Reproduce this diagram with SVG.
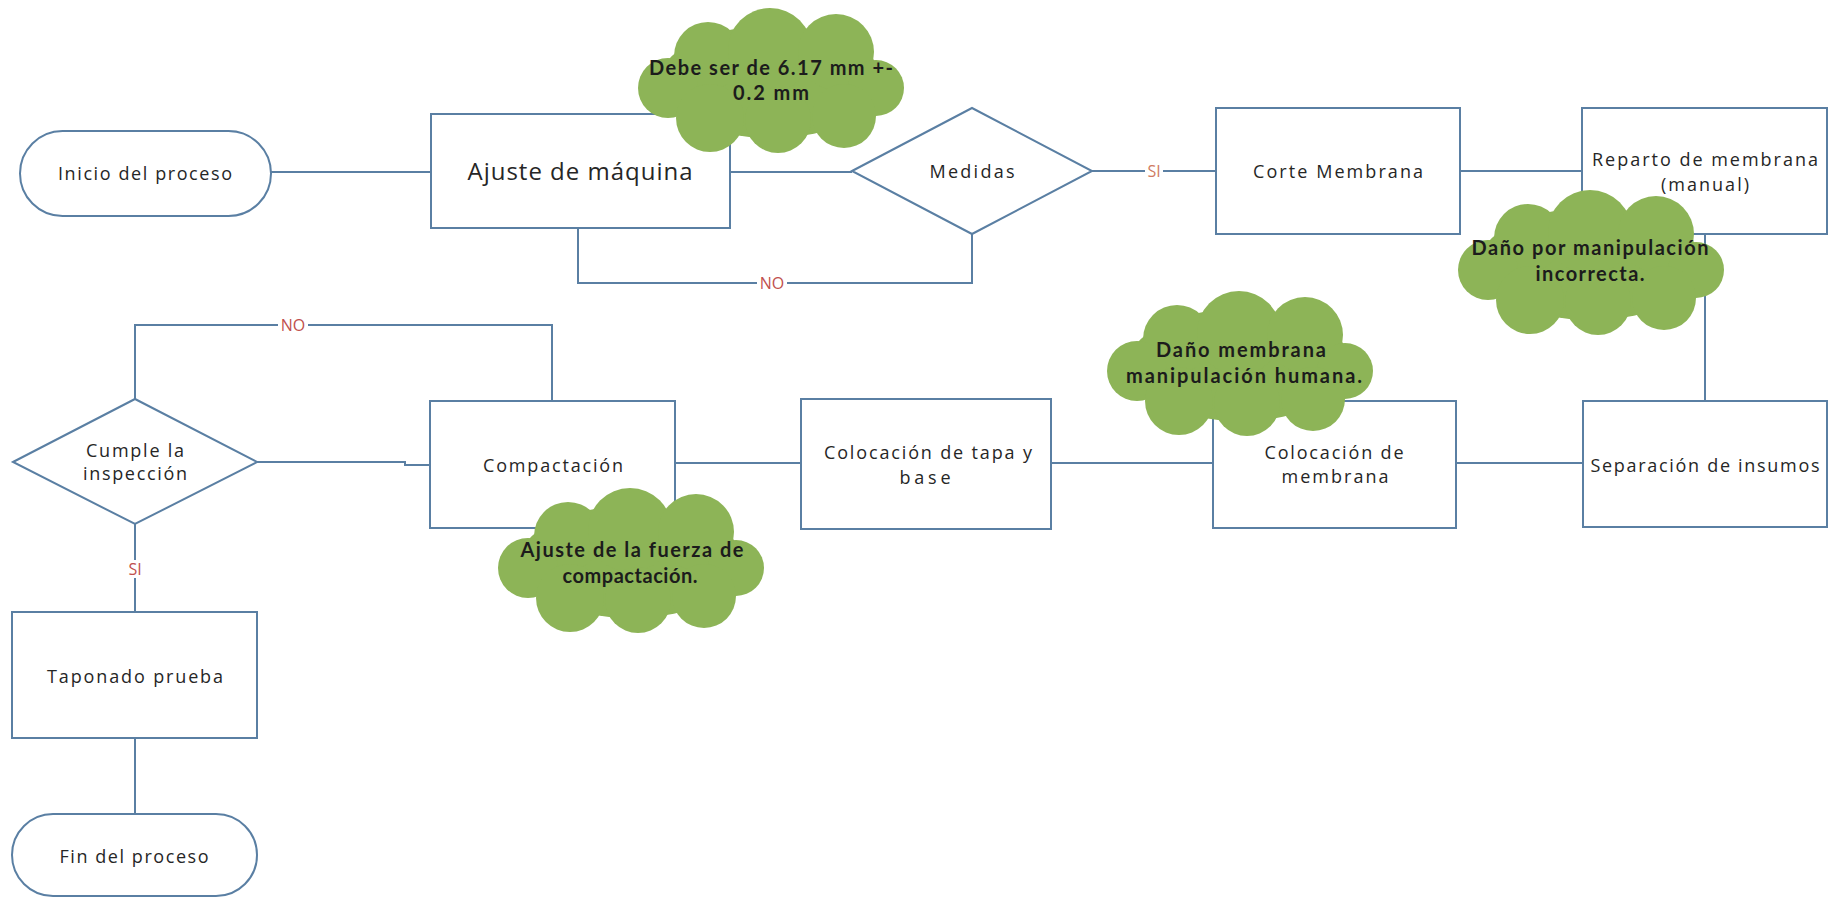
<svg xmlns="http://www.w3.org/2000/svg" xmlns:xlink="http://www.w3.org/1999/xlink" width="1836" height="897" viewBox="0 0 1836 897">
  <style>
    .box { fill: #ffffff; stroke: #5a7fa3; stroke-width: 2; }
    .wire { fill: none; stroke: #5a7fa3; stroke-width: 2; }
    .t { font-family: "Open Sans", "DejaVu Sans", sans-serif; font-size: 18px; fill: #262626; text-anchor: middle; }
    .big { font-size: 24px; }
    .c { font-family: Lato, "Liberation Sans", sans-serif; font-weight: bold; font-size: 20px; fill: #1c1c1c; text-anchor: middle; }
    .lbl { font-family: "Open Sans", "DejaVu Sans", sans-serif; font-size: 16px; fill: #c0504d; text-anchor: middle; }
    .lbl-si { fill: #d07b62; }
    .lblbg { fill: #ffffff; }
    .cloud { fill: #8db457; }
  </style>
  <defs>
    <!-- cloud callout, 266 x 145 -->
    <g id="cloud" class="cloud">
      <ellipse cx="133" cy="74" rx="112" ry="56"/>
      <circle cx="70" cy="48" r="34"/>
      <circle cx="132" cy="42" r="42"/>
      <circle cx="198" cy="44" r="38"/>
      <circle cx="238" cy="80" r="28"/>
      <circle cx="30" cy="80" r="30"/>
      <circle cx="72" cy="110" r="34"/>
      <circle cx="140" cy="112" r="33"/>
      <circle cx="206" cy="108" r="32"/>
    </g>
  </defs>

  <rect width="1836" height="897" fill="#ffffff"/>

  <!-- connectors -->
  <g id="connectors">
    <path class="wire" d="M271 172 H431"/>
    <path class="wire" d="M730 172 H852"/>
    <path class="wire" d="M972 234 V283 H578 V228"/>
    <path class="wire" d="M1092 171 H1216"/>
    <path class="wire" d="M1460 171 H1582"/>
    <path class="wire" d="M1705 234 V401"/>
    <path class="wire" d="M1583 463 H1456"/>
    <path class="wire" d="M1213 463 H1051"/>
    <path class="wire" d="M801 463 H675"/>
    <path class="wire" d="M430 465 H405 V462 H257"/>
    <path class="wire" d="M552 401 V325 H135 V399"/>
    <path class="wire" d="M135 524 V612"/>
    <path class="wire" d="M135 738 V814"/>
    <!-- branch labels -->
    <rect class="lblbg" x="757" y="275" width="30" height="17"/>
    <text class="lbl" x="772" y="289">NO</text>
    <rect class="lblbg" x="1145" y="163" width="18" height="17"/>
    <text class="lbl lbl-si" x="1154" y="177">SI</text>
    <rect class="lblbg" x="278" y="317" width="30" height="17"/>
    <text class="lbl" x="293" y="331">NO</text>
    <rect class="lblbg" x="126" y="560" width="18" height="18"/>
    <text class="lbl" x="135" y="575">SI</text>
  </g>

  <g id="inicio">
    <rect class="box" x="20" y="131" width="251" height="85" rx="42.5"/>
    <text class="t" x="145" y="180" textLength="174" lengthAdjust="spacing">Inicio del proceso</text>
  </g>

  <g id="ajuste-maquina">
    <rect class="box" x="431" y="114" width="299" height="114"/>
    <text class="t big" x="580" y="180" textLength="225" lengthAdjust="spacing">Ajuste de máquina</text>
  </g>

  <g id="medidas">
    <polygon class="box" points="852,171 972,108 1092,171 972,234"/>
    <text class="t" x="972" y="178" textLength="85" lengthAdjust="spacing">Medidas</text>
  </g>

  <g id="corte-membrana">
    <rect class="box" x="1216" y="108" width="244" height="126"/>
    <text class="t" x="1338" y="178" textLength="170" lengthAdjust="spacing">Corte Membrana</text>
  </g>

  <g id="reparto-membrana">
    <rect class="box" x="1582" y="108" width="245" height="126"/>
    <text class="t" x="1705" y="166" textLength="226" lengthAdjust="spacing">Reparto de membrana</text>
    <text class="t" x="1705" y="191" textLength="88" lengthAdjust="spacing">(manual)</text>
  </g>

  <g id="separacion-insumos">
    <rect class="box" x="1583" y="401" width="244" height="126"/>
    <text class="t" x="1705" y="472" textLength="229" lengthAdjust="spacing">Separación de insumos</text>
  </g>

  <g id="colocacion-membrana">
    <rect class="box" x="1213" y="401" width="243" height="127"/>
    <text class="t" x="1334" y="459" textLength="139" lengthAdjust="spacing">Colocación de</text>
    <text class="t" x="1335" y="483" textLength="107" lengthAdjust="spacing">membrana</text>
  </g>

  <g id="colocacion-tapa-base">
    <rect class="box" x="801" y="399" width="250" height="130"/>
    <text class="t" x="928" y="459" textLength="208" lengthAdjust="spacing">Colocación de tapa y</text>
    <text class="t" x="925" y="484" textLength="51" lengthAdjust="spacing">base</text>
  </g>

  <g id="compactacion">
    <rect class="box" x="430" y="401" width="245" height="127"/>
    <text class="t" x="553" y="472" textLength="140" lengthAdjust="spacing">Compactación</text>
  </g>

  <g id="cumple-inspeccion">
    <polygon class="box" points="13,462 135,399 257,462 135,524"/>
    <text class="t" x="135" y="457" textLength="98" lengthAdjust="spacing">Cumple la</text>
    <text class="t" x="135" y="480" textLength="104" lengthAdjust="spacing">inspección</text>
  </g>

  <g id="taponado-prueba">
    <rect class="box" x="12" y="612" width="245" height="126"/>
    <text class="t" x="135" y="683" textLength="176" lengthAdjust="spacing">Taponado prueba</text>
  </g>

  <g id="fin">
    <rect class="box" x="12" y="814" width="245" height="82" rx="41"/>
    <text class="t" x="134" y="863" textLength="149" lengthAdjust="spacing">Fin del proceso</text>
  </g>

  <!-- cloud notes -->
  <g id="nota-medida">
    <use xlink:href="#cloud" href="#cloud" transform="translate(638,8)"/>
    <text class="c" x="771" y="75" textLength="244" lengthAdjust="spacing">Debe ser de 6.17 mm +-</text>
    <text class="c" x="771" y="100" textLength="76" lengthAdjust="spacing">0.2 mm</text>
  </g>

  <g id="nota-manipulacion">
    <use xlink:href="#cloud" href="#cloud" transform="translate(1458,190)"/>
    <text class="c" x="1590" y="255" textLength="237" lengthAdjust="spacing">Daño por manipulación</text>
    <text class="c" x="1590" y="281" textLength="109" lengthAdjust="spacing">incorrecta.</text>
  </g>

  <g id="nota-membrana">
    <use xlink:href="#cloud" href="#cloud" transform="translate(1107,291)"/>
    <text class="c" x="1241" y="357" textLength="170" lengthAdjust="spacing">Daño membrana</text>
    <text class="c" x="1244" y="383" textLength="236" lengthAdjust="spacing">manipulación humana.</text>
  </g>

  <g id="nota-compactacion">
    <use xlink:href="#cloud" href="#cloud" transform="translate(498,488)"/>
    <text class="c" x="632" y="557" textLength="223" lengthAdjust="spacing">Ajuste de la fuerza de</text>
    <text class="c" x="630" y="583" textLength="135" lengthAdjust="spacing">compactación.</text>
  </g>
</svg>
